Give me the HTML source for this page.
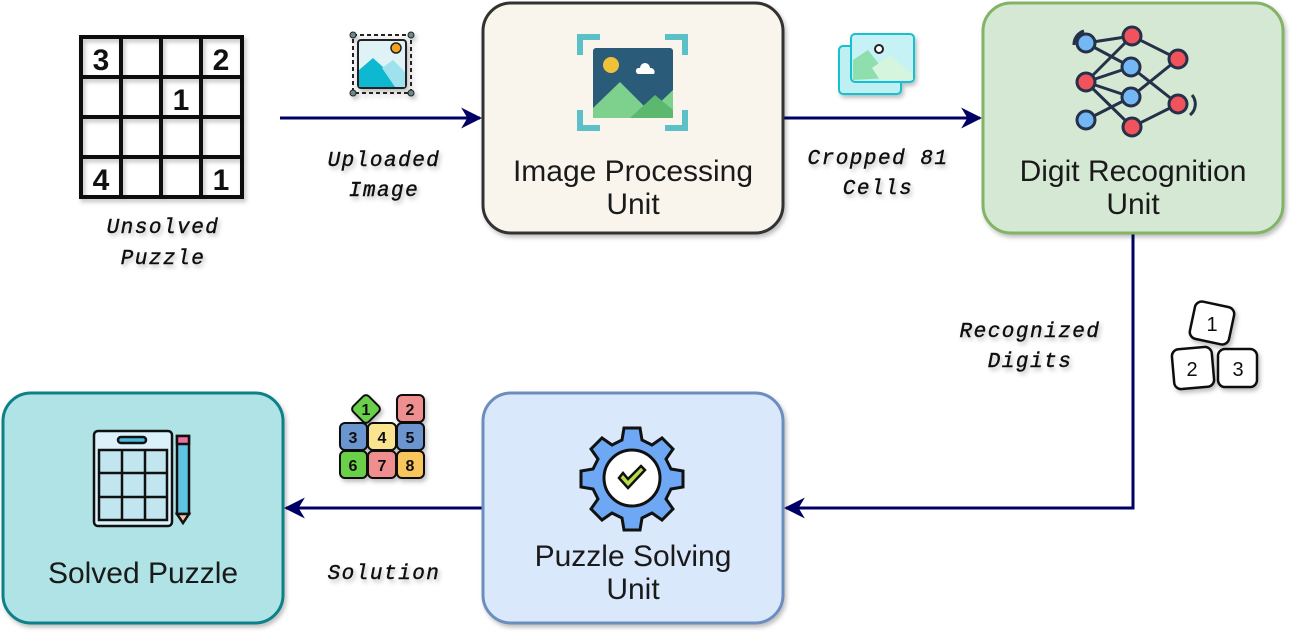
<!DOCTYPE html>
<html><head><meta charset="utf-8"><style>
html,body{margin:0;padding:0;background:#fff;width:1295px;height:635px;overflow:hidden}
.lbl{font-family:"Liberation Mono",monospace;font-style:italic;font-weight:normal;font-size:21px;letter-spacing:1.5px;fill:#111;stroke:#111;stroke-width:0.4}
.box{font-family:"Liberation Sans",sans-serif;font-size:30px;fill:#1a1a1a}
</style></head><body>
<svg width="1295" height="635" viewBox="0 0 1295 635" xmlns="http://www.w3.org/2000/svg">
<defs>
<filter id="sh" x="-10%" y="-10%" width="130%" height="130%"><feDropShadow dx="2" dy="3" stdDeviation="2" flood-color="#000" flood-opacity="0.25"/></filter>
<marker id="ar" viewBox="0 0 10 10" refX="9" refY="5" markerWidth="7" markerHeight="7" orient="auto"><path d="M0,0 L10,5 L0,10 L3,5z" fill="#000066"/></marker>
</defs>
<g stroke="#000066" stroke-width="3" fill="none">
<line x1="280" y1="118" x2="480" y2="118" marker-end="url(#ar)"/>
<line x1="784" y1="118" x2="980" y2="118" marker-end="url(#ar)"/>
<polyline points="1133,234 1133,508 786,508" marker-end="url(#ar)"/>
<line x1="482" y1="508" x2="286" y2="508" marker-end="url(#ar)"/>
</g>
<g filter="url(#sh)" stroke-width="3">
<rect x="483" y="3" width="300" height="230" rx="28" fill="#f9f5ec" stroke="#333"/>
<rect x="983" y="3" width="300" height="230" rx="28" fill="#d5e8d4" stroke="#82b366"/>
<rect x="483" y="393" width="300" height="230" rx="28" fill="#dae8fc" stroke="#6c8ebf"/>
<rect x="3" y="393" width="280" height="230" rx="28" fill="#b0e3e6" stroke="#0e8088"/>
</g>
<text class="box" x="633" y="181" text-anchor="middle">Image Processing</text>
<text class="box" x="633" y="214" text-anchor="middle">Unit</text>
<text class="box" x="1133" y="181" text-anchor="middle">Digit Recognition</text>
<text class="box" x="1133" y="214" text-anchor="middle">Unit</text>
<text class="box" x="633" y="566" text-anchor="middle">Puzzle Solving</text>
<text class="box" x="633" y="599" text-anchor="middle">Unit</text>
<text class="box" x="143" y="583" text-anchor="middle">Solved Puzzle</text>
<g class="lbl" text-anchor="middle" filter="url(#sh)">
<text x="384" y="166">Uploaded</text><text x="384" y="196">Image</text>
<text x="878" y="164">Cropped 81</text><text x="878" y="194">Cells</text>
<text x="163" y="233">Unsolved</text><text x="163" y="264">Puzzle</text>
<text x="1030" y="337">Recognized</text><text x="1030" y="367">Digits</text>
<text x="384" y="579">Solution</text>
</g>
<g filter="url(#sh)" stroke="#111" stroke-width="4" fill="none">
<rect x="81" y="37" width="161" height="160"/>
<line x1="121" y1="37" x2="121" y2="197"/><line x1="161" y1="37" x2="161" y2="197"/><line x1="201" y1="37" x2="201" y2="197"/>
<line x1="81" y1="77" x2="242" y2="77"/><line x1="81" y1="117" x2="242" y2="117"/><line x1="81" y1="157" x2="242" y2="157"/>
</g>
<g font-family="Liberation Sans,sans-serif" font-weight="bold" font-size="30" fill="#111" text-anchor="middle">
<text x="101" y="70">3</text><text x="221" y="70">2</text><text x="181" y="110">1</text><text x="101" y="190">4</text><text x="221" y="190">1</text>
</g>
<g filter="url(#sh)">
<rect x="353" y="35" width="58" height="58" fill="none" stroke="#222" stroke-width="2" stroke-dasharray="4,3"/>
<rect x="358" y="40" width="48" height="48" rx="3" fill="#dff3f6" stroke="#222" stroke-width="2"/>
<path d="M359,70 L373,58 L395,78 L395,87 L359,87z" fill="#10b8d0"/>
<path d="M382,68 L393,60 L405,72 L405,87 L395,87z" fill="#9fe2ee"/>
<circle cx="396" cy="48" r="5" fill="#f7a21b" stroke="#222" stroke-width="1.5"/>
<circle cx="353" cy="35" r="3" fill="#6b8a8f" stroke="#222"/><circle cx="411" cy="35" r="3" fill="#6b8a8f" stroke="#222"/>
<circle cx="353" cy="93" r="3" fill="#6b8a8f" stroke="#222"/><circle cx="411" cy="93" r="3" fill="#6b8a8f" stroke="#222"/>
</g>
<g>
<path d="M580,55 V37 H600 M665,37 H685 V55 M685,110 V128 H665 M600,128 H580 V110" stroke="#5bc0c8" stroke-width="6" fill="none"/>
<rect x="593" y="48" width="80" height="70" rx="3" fill="#2a5b78"/>
<circle cx="611" cy="65" r="8" fill="#f0c23a"/>
<path d="M640,68 a5,5 0 0 1 10,0 a4,4 0 0 1 4,6 h-16 a3,3 0 0 1 2,-6z" fill="#fff"/>
<path d="M593,108 L620,82 L650,112 L673,90 L673,118 L593,118z" fill="#7dd18d"/>
<path d="M630,118 L655,95 L673,110 L673,118z" fill="#5cb86f"/>
</g>
<g filter="url(#sh)">
<rect x="839" y="46" width="62" height="48" rx="4" fill="#bdeff3" stroke="#19c0cc" stroke-width="2"/>
<rect x="851" y="34" width="63" height="48" rx="4" fill="#c6f1f5" stroke="#19c0cc" stroke-width="2"/>
<path d="M853,80 V60 L868,50 L890,78z" fill="#8fdfae"/>
<path d="M872,68 L890,55 L913,75 V80 H880z" fill="#d6f5de"/>
<circle cx="879" cy="49" r="4" fill="#fff" stroke="#222" stroke-width="2"/>
</g>
<g stroke="#253049" stroke-width="3" fill="none">
<path d="M1086,43 L1131,67 M1086,43 L1132,36 M1086,82 L1132,36 M1086,82 L1131,67 M1086,82 L1131,97 M1086,82 L1132,127 M1086,120 L1131,97 M1132,36 L1178,59 M1131,67 L1178,104 M1131,97 L1178,59 M1132,127 L1178,104"/>
<path d="M1074,45 a14,14 0 0 1 10,-14 M1192,95 a14,14 0 0 1 -2,20"/>
</g>
<g stroke="#253049" stroke-width="3">
<circle cx="1086" cy="43" r="9" fill="#73b8f5"/><circle cx="1086" cy="82" r="9" fill="#f0535c"/><circle cx="1086" cy="120" r="9" fill="#73b8f5"/>
<circle cx="1132" cy="36" r="9" fill="#f0535c"/><circle cx="1131" cy="67" r="9" fill="#73b8f5"/><circle cx="1131" cy="97" r="9" fill="#73b8f5"/><circle cx="1132" cy="127" r="9" fill="#f0535c"/>
<circle cx="1178" cy="59" r="9" fill="#f0535c"/><circle cx="1178" cy="104" r="9" fill="#f0535c"/>
</g>
<g filter="url(#sh)" stroke="#111" stroke-width="2.5" fill="#fff" font-family="Liberation Sans,sans-serif" font-size="20">
<rect x="1192" y="304" width="40" height="38" rx="7" transform="rotate(12 1212 323)"/>
<rect x="1173" y="348" width="40" height="40" rx="7" transform="rotate(-5 1193 368)"/>
<rect x="1218" y="349" width="39" height="38" rx="7"/>
<g fill="#111" stroke="none" text-anchor="middle"><text x="1212" y="331">1</text><text x="1192" y="376">2</text><text x="1238" y="376">3</text></g>
</g>
<g filter="url(#sh)" stroke="#111" stroke-width="2" font-family="Liberation Sans,sans-serif" font-weight="bold" font-size="16" text-anchor="middle">
<rect x="397" y="395" width="27" height="27" rx="5" fill="#ef8e8e"/>
<rect x="340" y="423" width="27" height="27" rx="5" fill="#6b95cf"/>
<rect x="368" y="423" width="28" height="27" rx="5" fill="#fbe48f"/>
<rect x="397" y="423" width="27" height="27" rx="5" fill="#6b95cf"/>
<rect x="340" y="451" width="27" height="27" rx="5" fill="#6ad04a"/>
<rect x="368" y="451" width="28" height="27" rx="5" fill="#ef8e8e"/>
<rect x="397" y="451" width="27" height="27" rx="5" fill="#f8c65c"/>
<rect x="355" y="398" width="22" height="22" rx="4" fill="#6ad04a" transform="rotate(45 366 409)"/>
<g fill="#111" stroke="none"><text x="410" y="415">2</text><text x="366" y="415">1</text><text x="353" y="443">3</text><text x="382" y="443">4</text><text x="410" y="443">5</text><text x="353" y="471">6</text><text x="382" y="471">7</text><text x="410" y="471">8</text></g>
</g>
<g>
<path d="M624,428 h16 l2,12 l10,5 l10,-7 l11,11 l-7,10 l5,10 l12,2 v16 l-12,2 l-5,10 l7,10 l-11,11 l-10,-7 l-10,5 l-2,12 h-16 l-2,-12 l-10,-5 l-10,7 l-11,-11 l7,-10 l-5,-10 l-12,-2 v-16 l12,-2 l5,-10 l-7,-10 l11,-11 l10,7 l10,-5z" fill="#6ea8f5" stroke="#111" stroke-width="3"/>
<circle cx="632" cy="478" r="28" fill="#fff" stroke="#111" stroke-width="3"/>
<path d="M619,478 l9,10 l17,-18 l-4,-4 l-13,13 l-5,-6z" fill="#b6dd4a" stroke="#111" stroke-width="2.5"/>
</g>
<g stroke="#111" stroke-width="2.5">
<rect x="94" y="431" width="78" height="95" rx="4" fill="#dcf2fb"/>
<rect x="118" y="437" width="28" height="6" rx="3" fill="#4bb9dc"/>
<rect x="99" y="450" width="68" height="70" fill="#c2e6f0"/>
<path d="M122,450 V520 M145,450 V520 M99,473 H167 M99,497 H167" fill="none"/>
<rect x="177" y="436" width="12" height="78" fill="#5fc4e4"/>
<rect x="177" y="436" width="12" height="8" fill="#f06fa0"/>
<path d="M177,514 L183,523 L189,514z" fill="#f5c2a0"/>
</g>
</svg>
</body></html>
